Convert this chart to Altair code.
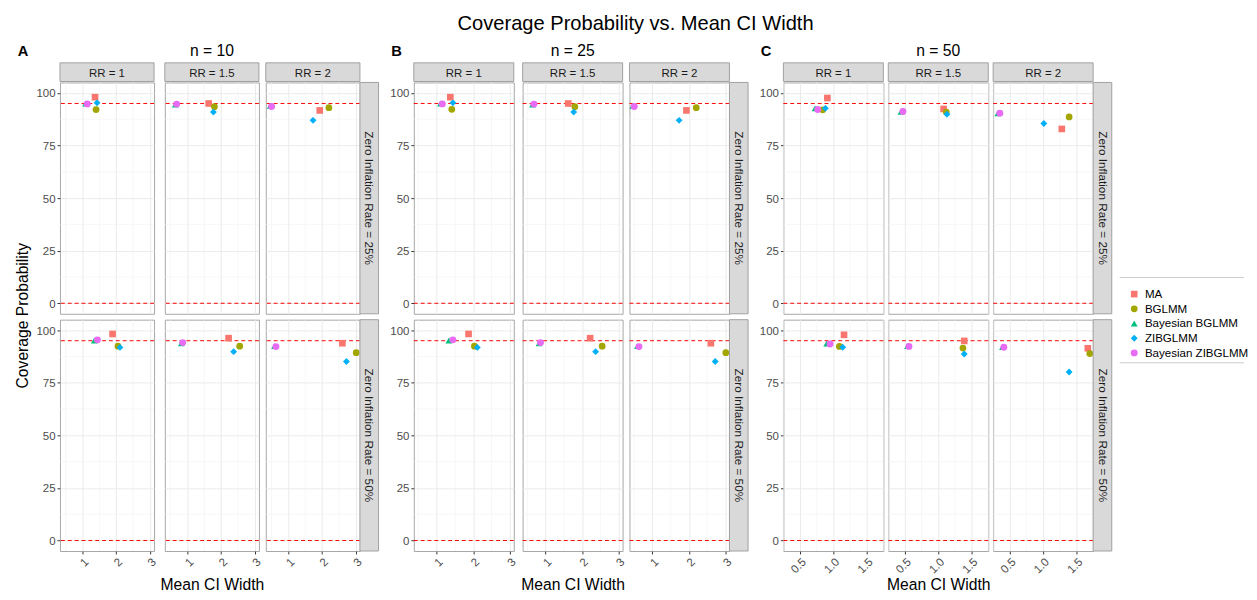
import altair as alt
import pandas as pd

# ---------------- data ----------------
methods = ["MA", "BGLMM", "Bayesian BGLMM", "ZIBGLMM", "Bayesian ZIBGLMM"]
method_colors = ["#F8766D", "#A3A500", "#00BF7D", "#00B0F6", "#E76BF3"]
method_shapes = ["square", "circle", "triangle-up", "diamond", "circle"]
method_sizes = [46, 50, 66, 36, 50]

rr_levels = ["1", "1.5", "2"]
zi_levels = ["25%", "50%"]
n_levels = [10, 25, 50]
panel_tags = ["A", "B", "C"]
main_title = "Coverage Probability vs. Mean CI Width"
y_title = "Coverage Probability"
x_title = "Mean CI Width"

# Mean CI width / coverage: one list per RR (1, 1.5, 2); values in the order of `methods`
n10_zi25_width = [[1.37, 1.40, 1.09, 1.43, 1.14],
                  [1.63, 1.80, 0.64, 1.77, 0.68],
                  [1.93, 2.20, 0.46, 1.73, 0.50]]
n10_zi25_cover = [[98.0, 92.1, 95.0, 95.3, 94.8],
                  [95.0, 93.5, 94.5, 90.9, 94.7],
                  [91.7, 93.0, 93.9, 87.0, 93.6]]
n10_zi50_width = [[1.89, 2.05, 1.35, 2.11, 1.44],
                  [2.22, 2.55, 0.82, 2.37, 0.86],
                  [2.60, 3.01, 0.59, 2.72, 0.63]]
n10_zi50_cover = [[98.2, 92.4, 95.1, 91.8, 95.4],
                  [96.2, 92.4, 93.8, 89.8, 94.1],
                  [93.8, 89.3, 92.4, 85.1, 92.2]]

n25_zi25_width = [[1.37, 1.41, 1.10, 1.44, 1.15],
                  [1.62, 1.80, 0.64, 1.77, 0.68],
                  [1.93, 2.20, 0.46, 1.73, 0.50]]
n25_zi25_cover = [[98.0, 92.2, 95.0, 95.3, 94.8],
                  [95.0, 93.5, 94.5, 90.9, 94.7],
                  [91.7, 93.0, 93.9, 87.0, 93.6]]
n25_zi50_width = [[1.87, 2.03, 1.33, 2.11, 1.44],
                  [2.22, 2.55, 0.82, 2.37, 0.86],
                  [2.60, 3.01, 0.59, 2.72, 0.63]]
n25_zi50_cover = [[98.2, 92.4, 95.1, 91.8, 95.4],
                  [96.2, 92.4, 93.8, 89.8, 94.1],
                  [93.8, 89.3, 92.4, 85.1, 92.2]]

n50_zi25_width = [[0.91, 0.84, 0.725, 0.88, 0.765],
                  [1.08, 1.12, 0.44, 1.13, 0.47],
                  [1.28, 1.39, 0.32, 1.01, 0.35]]
n50_zi25_cover = [[97.6, 92.0, 92.7, 92.7, 92.1],
                  [92.4, 90.9, 91.0, 89.9, 91.2],
                  [82.9, 88.6, 90.3, 85.5, 90.4]]
n50_zi50_width = [[1.16, 1.09, 0.90, 1.14, 0.95],
                  [1.39, 1.37, 0.54, 1.39, 0.56],
                  [1.67, 1.70, 0.39, 1.39, 0.41]]
n50_zi50_cover = [[97.8, 92.3, 93.6, 91.9, 93.4],
                  [94.9, 91.5, 92.5, 88.7, 92.3],
                  [91.4, 88.9, 92.0, 80.1, 91.9]]

x_major_small_n = [1, 2, 3]
x_minor_small_n = [0.5, 1.5, 2.5]
x_major_large_n = [0.5, 1.0, 1.5]
x_minor_large_n = [0.25, 0.75, 1.25, 1.75]
y_major = [0, 25, 50, 75, 100]
y_minor = [12.5, 37.5, 62.5, 87.5]
reference_levels = [95, 0]
legend_box_lines = [199, 286]

FONT = "Liberation Sans"
H = 236
STRIP = 19
RED = "#FF0000"
STRIP_FILL = "#D9D9D9"
STRIP_LINE = "#A0A0A0"


def cell_frame(w, c):
    return pd.DataFrame({"method": methods, "width": w, "coverage": c})


def panel(df, W, xdom, xmajor, xminor, fmt, ri, ci, n, tag, rr, zi, title_pad):
    bottom = ri == 1
    left = ci == 0
    sx = alt.Scale(domain=xdom, nice=False, zero=False)
    sy = alt.Scale(domain=[-5, 105], nice=False)
    x_axis = alt.Axis(values=xmajor, format=fmt, labels=bottom, ticks=bottom, labelAngle=-45,
                      title=x_title if (bottom and ci == 1) else None,
                      titleFontSize=16, titleFontWeight="normal", titleColor="black",
                      titleFont=FONT, titlePadding=title_pad)
    y_axis = alt.Axis(values=y_major, labels=left, ticks=left, title=None)
    layers = [
        alt.Chart(pd.DataFrame({"v": xminor})).mark_rule(color="#F2F2F2", strokeWidth=0.6)
        .encode(x=alt.X("v:Q", scale=sx, axis=x_axis)),
        alt.Chart(pd.DataFrame({"v": y_minor})).mark_rule(color="#F2F2F2", strokeWidth=0.6)
        .encode(y=alt.Y("v:Q", scale=sy, axis=y_axis)),
        alt.Chart(pd.DataFrame({"ref": reference_levels})).mark_rule(
            color=RED, strokeDash=[4, 3], strokeWidth=1)
        .encode(y=alt.Y("ref:Q", scale=sy, axis=y_axis)),
    ]
    layers.append(alt.Chart(df).mark_point(filled=True, opacity=1).encode(
        x=alt.X("width:Q", scale=sx, axis=x_axis),
        y=alt.Y("coverage:Q", scale=sy, axis=y_axis),
        color=alt.Color("method:N", scale=alt.Scale(domain=methods, range=method_colors),
                        legend=alt.Legend(title=None)),
        shape=alt.Shape("method:N", scale=alt.Scale(domain=methods, range=method_shapes),
                        legend=alt.Legend(title=None)),
        size=alt.Size("method:N", scale=alt.Scale(domain=methods, range=method_sizes), legend=None),
    ))
    if ri == 0:
        lab = alt.Chart(pd.DataFrame({"lab": [f"RR = {rr}"]}))
        layers.append(lab.mark_rect(fill=STRIP_FILL, stroke=STRIP_LINE, strokeWidth=1).encode(
            x=alt.value(0), x2=alt.value(W), y=alt.value(-STRIP - 1), y2=alt.value(-1)))
        layers.append(lab.mark_text(fontSize=11.7, color="#1A1A1A", font=FONT,
                                    baseline="middle").encode(
            x=alt.value(W / 2), y=alt.value(-STRIP / 2 - 0.5), text="lab:N"))
        if ci == 1:
            layers.append(alt.Chart(pd.DataFrame({"t": [f"n = {n}"]})).mark_text(
                fontSize=16, font=FONT, color="black", baseline="alphabetic").encode(
                x=alt.value(W / 2), y=alt.value(-27), text="t:N"))
        if ci == 0 and tag:
            layers.append(alt.Chart(pd.DataFrame({"t": [tag]})).mark_text(
                fontSize=15, fontWeight="bold", font=FONT, color="black", align="left",
                baseline="alphabetic").encode(x=alt.value(-23), y=alt.value(-26.5), text="t:N"))
    if ci == 2:
        zl = alt.Chart(pd.DataFrame({"lab": [f"Zero Inflation Rate = {zi}"]}))
        layers.append(zl.mark_rect(fill=STRIP_FILL, stroke=STRIP_LINE, strokeWidth=1).encode(
            x=alt.value(W), x2=alt.value(W + STRIP), y=alt.value(0), y2=alt.value(H)))
        layers.append(zl.mark_text(fontSize=12, color="#1A1A1A", font=FONT, angle=90,
                                   baseline="middle").encode(
            x=alt.value(W + STRIP / 2), y=alt.value(H / 2), text="lab:N"))
    return alt.layer(*layers).properties(width=W, height=H)


def group(widths25, covers25, widths50, covers50, W, xdom, xmajor, xminor, fmt, n, tag,
          first, last, col_spacing, title_pad):
    cols = []
    for ci, rr in enumerate(rr_levels):
        top = panel(cell_frame(widths25[ci], covers25[ci]), W, xdom, xmajor, xminor, fmt,
                    0, ci, n, None if first else tag, rr, zi_levels[0], title_pad)
        bot = panel(cell_frame(widths50[ci], covers50[ci]), W, xdom, xmajor, xminor, fmt,
                    1, ci, n, None, rr, zi_levels[1], title_pad)
        cols.append(alt.vconcat(top, bot, spacing=4))
    parts = []
    if first:
        ytl = alt.layer(
            alt.Chart(pd.DataFrame({"t": [y_title]})).mark_text(
                fontSize=16, font=FONT, color="black", angle=270, baseline="middle").encode(
                text="t:N", x=alt.value(5), y=alt.value(H + 2)),
            alt.Chart(pd.DataFrame({"t": [tag]})).mark_text(
                fontSize=15, fontWeight="bold", font=FONT, color="black", align="left",
                baseline="alphabetic").encode(text="t:N", x=alt.value(0), y=alt.value(-26.5)),
        ).properties(width=16, height=2 * H + 4, view=alt.ViewBackground(stroke="transparent"))
        parts.append(ytl)
    parts += cols
    if last:
        box = alt.layer(*[
            alt.Chart(pd.DataFrame({"yy": [yy]})).mark_rule(color="#CCCCCC", strokeWidth=1)
            .encode(x=alt.value(5), x2=alt.value(132), y=alt.value(yy))
            for yy in legend_box_lines
        ]).properties(width=132, height=2 * H + 4, view=alt.ViewBackground(stroke="transparent"))
        parts.append(box)
    return alt.hconcat(*parts, spacing=col_spacing)


gA = group(n10_zi25_width, n10_zi25_cover, n10_zi50_width, n10_zi50_cover, 96, [0.33, 3.12],
           x_major_small_n, x_minor_small_n, "d", n_levels[0], panel_tags[0], True, False, 0, 8)
gB = group(n25_zi25_width, n25_zi25_cover, n25_zi50_width, n25_zi50_cover, 102, [0.37, 3.11],
           x_major_small_n, x_minor_small_n, "d", n_levels[1], panel_tags[1], False, False, 1, 8)
gC = group(n50_zi25_width, n50_zi25_cover, n50_zi50_width, n50_zi50_cover, 102, [0.25, 1.75],
           x_major_large_n, x_minor_large_n, ".1f", n_levels[2], panel_tags[2], False, True, 1, 1)

chart = alt.hconcat(gA, gB, gC, spacing=9).properties(
    title=alt.TitleParams(main_title, fontSize=20.5, font=FONT, fontWeight="normal",
                          color="black", anchor="middle", offset=9, dx=4),
    padding={"left": 6, "top": 0, "right": 0, "bottom": 0},
).configure(
    font=FONT,
).configure_view(
    stroke="#A6A6A6", strokeWidth=1,
).configure_axis(
    domain=False, gridColor="#EBEBEB", gridWidth=1, labelColor="#4D4D4D", labelFontSize=11.7,
    labelFont=FONT, tickColor="#333333", tickSize=3, labelPadding=2, labelOverlap=False,
).configure_legend(
    orient="none", legendX=1133, legendY=210, labelFontSize=11.8, labelFont=FONT,
    labelColor="black", symbolSize=140, rowPadding=2, symbolStrokeWidth=0, padding=0,
    labelOffset=5,
)

chart.save("out.html", embed_options={"renderer": "svg", "actions": False})
